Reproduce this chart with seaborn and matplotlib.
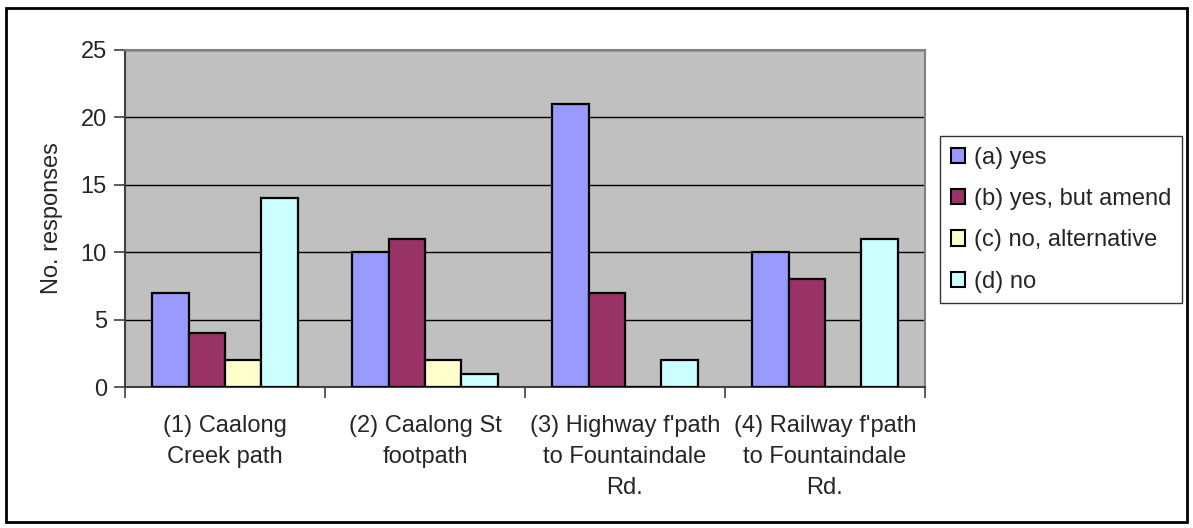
import matplotlib
matplotlib.use("Agg")
import matplotlib.pyplot as plt
import seaborn as sns
import pandas as pd
from matplotlib.patches import Rectangle
from matplotlib.ticker import FixedLocator

routes = ["(1) Caalong\nCreek path",
          "(2) Caalong St\nfootpath",
          "(3) Highway f'path\nto Fountaindale\nRd.",
          "(4) Railway f'path\nto Fountaindale\nRd."]
answers = ["(a) yes", "(b) yes, but amend", "(c) no, alternative", "(d) no"]
yes_vals = [7, 10, 21, 10]
yes_amend_vals = [4, 11, 7, 8]
no_alt_vals = [2, 2, 0, 0]
no_vals = [14, 1, 2, 11]
colors = ["#9999FF", "#993366", "#FFFFCC", "#CCFFFF"]

rows = []
for ans, vals in zip(answers, [yes_vals, yes_amend_vals, no_alt_vals, no_vals]):
    for r, v in zip(routes, vals):
        rows.append({"route": r, "answer": ans, "count": v})
df = pd.DataFrame(rows)

sns.set_theme(style="white")
plt.rcParams["font.family"] = ["Liberation Sans", "DejaVu Sans"]
plt.rcParams["font.size"] = 17

fig = plt.figure(figsize=(11.93, 5.28), dpi=100)
fig.patch.set_facecolor("white")
ax = fig.add_axes([125 / 1193, 1 - 387 / 528, 800 / 1193, 337 / 528])
ax.set_facecolor("#C0C0C0")

sns.barplot(data=df, x="route", y="count", hue="answer", hue_order=answers,
            order=routes, palette=colors, width=4 / 5.5, gap=0,
            edgecolor="black", linewidth=1.6, saturation=1, ax=ax, zorder=3)

ax.set_xlim(-0.5, 3.5)
ax.set_ylim(0, 25)
ax.set_yticks([0, 5, 10, 15, 20, 25])
ax.yaxis.grid(True, color="black", linewidth=1.0, zorder=0)
ax.set_axisbelow(True)

ax.set_xlabel("")
ax.set_ylabel("No. responses", fontsize=17)
ax.yaxis.set_label_coords(-0.077, 0.5)

ax.tick_params(axis="x", which="major", length=0, pad=20, labelsize=17)
for lbl in ax.get_xticklabels():
    lbl.set_linespacing(1.55)
ax.xaxis.set_minor_locator(FixedLocator([-0.5, 0.5, 1.5, 2.5, 3.5]))
ax.tick_params(axis="x", which="minor", length=8, width=1.2, color="#404040",
               direction="out", bottom=True)
ax.tick_params(axis="y", length=8, width=1.2, color="#404040",
               direction="out", left=True, pad=5, labelsize=17)

for side in ["top", "right"]:
    ax.spines[side].set_color("#808080")
    ax.spines[side].set_linewidth(1.5)
for side in ["left", "bottom"]:
    ax.spines[side].set_color("#404040")
    ax.spines[side].set_linewidth(1.5)

ax.get_legend().remove()
handles = [Rectangle((0, 0), 1, 1, facecolor=c, edgecolor="black", linewidth=1.5)
           for c in colors]
leg = fig.legend(handles, answers, loc="upper left",
                 bbox_to_anchor=(940 / 1193, 1 - 136 / 528),
                 borderaxespad=0, fontsize=17, frameon=True, fancybox=False,
                 handlelength=0.62, handleheight=0.62, handletextpad=0.35,
                 labelspacing=0.82, borderpad=0.45)
leg.get_frame().set_edgecolor("black")
leg.get_frame().set_linewidth(1.0)

fig.patches.append(Rectangle((6 / 1193, 6 / 528), 1181 / 1193, 514 / 528,
                             transform=fig.transFigure, fill=False,
                             edgecolor="black", linewidth=2))

fig.savefig("out.png", dpi=100, facecolor="white")
